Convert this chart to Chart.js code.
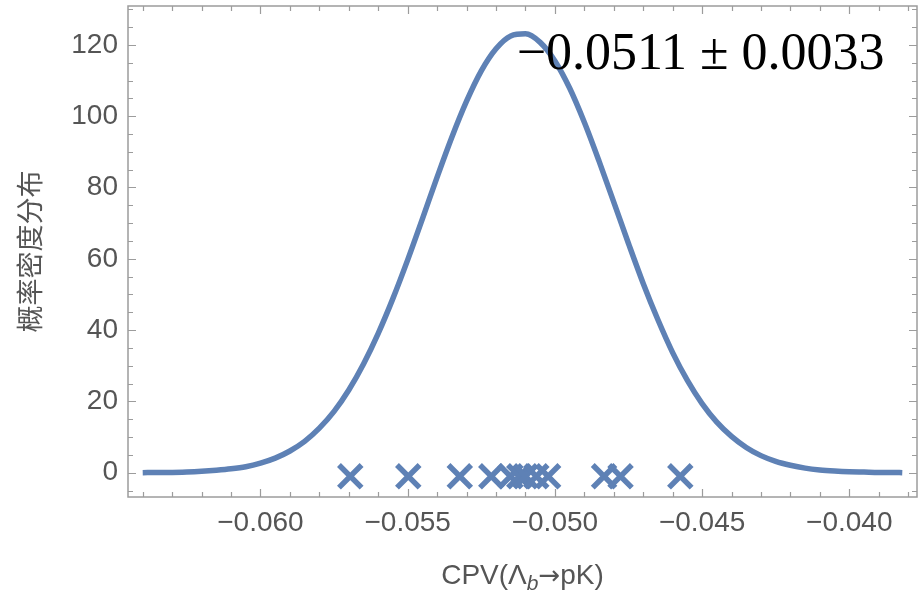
<!DOCTYPE html>
<html>
<head>
<meta charset="utf-8">
<script src="https://cdn.jsdelivr.net/npm/chart.js@4.4.1/dist/chart.umd.min.js"></script>
<style>
  html, body { margin: 0; padding: 0; background: #fff; }
  canvas { display: block; }
</style>
</head>
<body>
<canvas id="pdfChart" width="922" height="591"></canvas>
<script>
// density curve
const curveX = [-0.0640, -0.0635, -0.0630, -0.0625, -0.0620, -0.0615, -0.0610, -0.0605, -0.0600, -0.0595,
                -0.0590, -0.0585, -0.0580, -0.0575, -0.0570, -0.0565, -0.0560, -0.0555, -0.0550, -0.0545,
                -0.0540, -0.0535, -0.0530, -0.0525, -0.0520, -0.0515, -0.0510, -0.0505, -0.0500, -0.0495,
                -0.0490, -0.0485, -0.0480, -0.0475, -0.0470, -0.0465, -0.0460, -0.0455, -0.0450, -0.0445,
                -0.0440, -0.0435, -0.0430, -0.0425, -0.0420, -0.0415, -0.0410, -0.0405, -0.0400, -0.0395,
                -0.0390, -0.0385, -0.0382];
const curveY = [0.0, 0.1, 0.1, 0.2, 0.4, 0.7, 1.1, 1.7, 2.7, 4.1,
                6.1, 8.8, 12.5, 17.2, 23.2, 30.5, 39.1, 48.9, 59.7, 71.2,
                82.9, 94.1, 104.2, 112.7, 118.9, 122.5, 123.1, 120.7, 115.5, 107.9,
                98.3, 87.4, 75.9, 64.3, 53.1, 42.9, 33.7, 25.9, 19.4, 14.2,
                10.2, 7.1, 4.8, 3.2, 2.1, 1.3, 0.8, 0.5, 0.3, 0.2,
                0.1, 0.1, 0.0];

// single measurements (the crosses)
const markX = [-0.05695, -0.05498, -0.05323, -0.05216, -0.05151, -0.05121,
               -0.05100, -0.05063, -0.05023, -0.04833, -0.04777, -0.04574];
const markY = [-1, -1, -1, -1, -1, -1, -1, -1, -1, -1, -1, -1];

const xTicks = [-0.060, -0.055, -0.050, -0.045, -0.040];
const yTicks = [0, 20, 40, 60, 80, 100, 120];

const resultText = '−0.0511 ± 0.0033';
const yTitle = '概率密度分布';

const BLUE = '#5e81b5';
const GREY = '#555555';
const FRAME = '#9c9c9c';
const SANS = "'Liberation Sans', 'Noto Sans CJK SC', sans-serif";

function fmtX(v) {
    return (v < 0 ? '−' : '') + Math.abs(v).toFixed(3);
}

// keep chart.js from reserving room for edge labels
function noPad(s) {
    s.paddingLeft = 0; s.paddingRight = 0; s.paddingTop = 0; s.paddingBottom = 0;
}

// Mathematica style frame: box all round, ticks pointing inwards
const frameTicks = {
    id: 'frameTicks',
    beforeDatasetsDraw(chart) {
        const { ctx, chartArea: a, scales: { x, y } } = chart;
        ctx.save();
        ctx.strokeStyle = FRAME;
        ctx.lineWidth = 1.5;
        ctx.strokeRect(a.left, a.top, a.right - a.left, a.bottom - a.top);
        ctx.lineWidth = 1.2;
        ctx.beginPath();
        for (let i = -64; i <= -38; i++) {
            const px = Math.round(x.getPixelForValue(i / 1000)) + 0.5;
            const len = i % 5 === 0 ? 8 : 5;
            ctx.moveTo(px, a.bottom); ctx.lineTo(px, a.bottom - len);
            ctx.moveTo(px, a.top); ctx.lineTo(px, a.top + len);
        }
        for (let v = -5; v <= 130; v += 5) {
            const py = Math.round(y.getPixelForValue(v)) + 0.5;
            const len = v % 20 === 0 ? 8 : 5;
            ctx.moveTo(a.left, py); ctx.lineTo(a.left + len, py);
            ctx.moveTo(a.right, py); ctx.lineTo(a.right - len, py);
        }
        ctx.stroke();
        ctx.restore();
    }
};

// x title with italic subscript b
const xTitle = {
    id: 'xTitle',
    afterDraw(chart) {
        const { ctx, chartArea: a } = chart;
        const parts = [
            { t: 'CPV(Λ', f: `28px ${SANS}`, dy: 0 },
            { t: 'b', f: `italic 21px ${SANS}`, dy: 6 },
            { t: '→', f: `26px 'DejaVu Sans', sans-serif`, dy: 0 },
            { t: 'pK)', f: `28px ${SANS}`, dy: 0 }
        ];
        ctx.save();
        ctx.fillStyle = GREY;
        ctx.textBaseline = 'alphabetic';
        let total = 0;
        parts.forEach(p => { ctx.font = p.f; p.w = ctx.measureText(p.t).width; total += p.w; });
        let cx = (a.left + a.right) / 2 - total / 2;
        const base = 584;
        parts.forEach(p => {
            ctx.font = p.f;
            ctx.fillText(p.t, cx, base + p.dy);
            cx += p.w;
        });
        ctx.restore();
    }
};

// the fitted value, written over the plot
const resultLabel = {
    id: 'resultLabel',
    afterDatasetsDraw(chart) {
        const { ctx, scales: { x, y } } = chart;
        ctx.save();
        ctx.fillStyle = '#000';
        ctx.font = "52px 'Liberation Serif', 'DejaVu Serif', serif";
        ctx.textAlign = 'center';
        ctx.textBaseline = 'alphabetic';
        ctx.fillText(resultText, x.getPixelForValue(-0.04505), y.getPixelForValue(113.1));
        ctx.restore();
    }
};

const ctx = document.getElementById('pdfChart').getContext('2d');

new Chart(ctx, {
    type: 'scatter',
    plugins: [frameTicks, xTitle, resultLabel],
    data: {
        datasets: [
            {
                type: 'line',
                data: curveX.map((v, i) => ({ x: v, y: curveY[i] })),
                borderColor: BLUE,
                borderWidth: 5.5,
                pointRadius: 0,
                fill: false,
                cubicInterpolationMode: 'monotone',
                order: 2
            },
            {
                data: markX.map((v, i) => ({ x: v, y: markY[i] })),
                pointStyle: 'crossRot',
                pointRadius: 16,
                borderColor: BLUE,
                backgroundColor: BLUE,
                borderWidth: 5.5,
                order: 1
            }
        ]
    },
    options: {
        responsive: false,
        devicePixelRatio: 1,
        animation: false,
        layout: { autoPadding: false, padding: { top: 6, right: 5, left: 0, bottom: 0 } },
        scales: {
            x: {
                type: 'linear',
                min: -0.0645,
                max: -0.0377,
                afterBuildTicks: s => { s.ticks = xTicks.map(v => ({ value: v })); },
                afterFit: s => { s.height = 94; noPad(s); },
                grid: { display: false, drawTicks: false },
                border: { display: false },
                ticks: {
                    color: GREY,
                    font: { family: SANS, size: 28 },
                    padding: 9,
                    maxRotation: 0,
                    autoSkip: false,
                    callback: v => fmtX(v)
                }
            },
            y: {
                min: -6.8,
                max: 130.9,
                afterBuildTicks: s => { s.ticks = yTicks.map(v => ({ value: v })); },
                afterFit: s => { s.width = 128; noPad(s); },
                grid: { display: false, drawTicks: false },
                border: { display: false },
                title: {
                    display: true,
                    text: yTitle,
                    color: GREY,
                    font: { family: SANS, size: 27 },
                    padding: { top: 16, bottom: 0 }
                },
                ticks: {
                    color: GREY,
                    font: { family: SANS, size: 28 },
                    padding: 10,
                    autoSkip: false
                }
            }
        },
        plugins: {
            legend: { display: false },
            tooltip: { enabled: false }
        }
    }
});
</script>
</body>
</html>
